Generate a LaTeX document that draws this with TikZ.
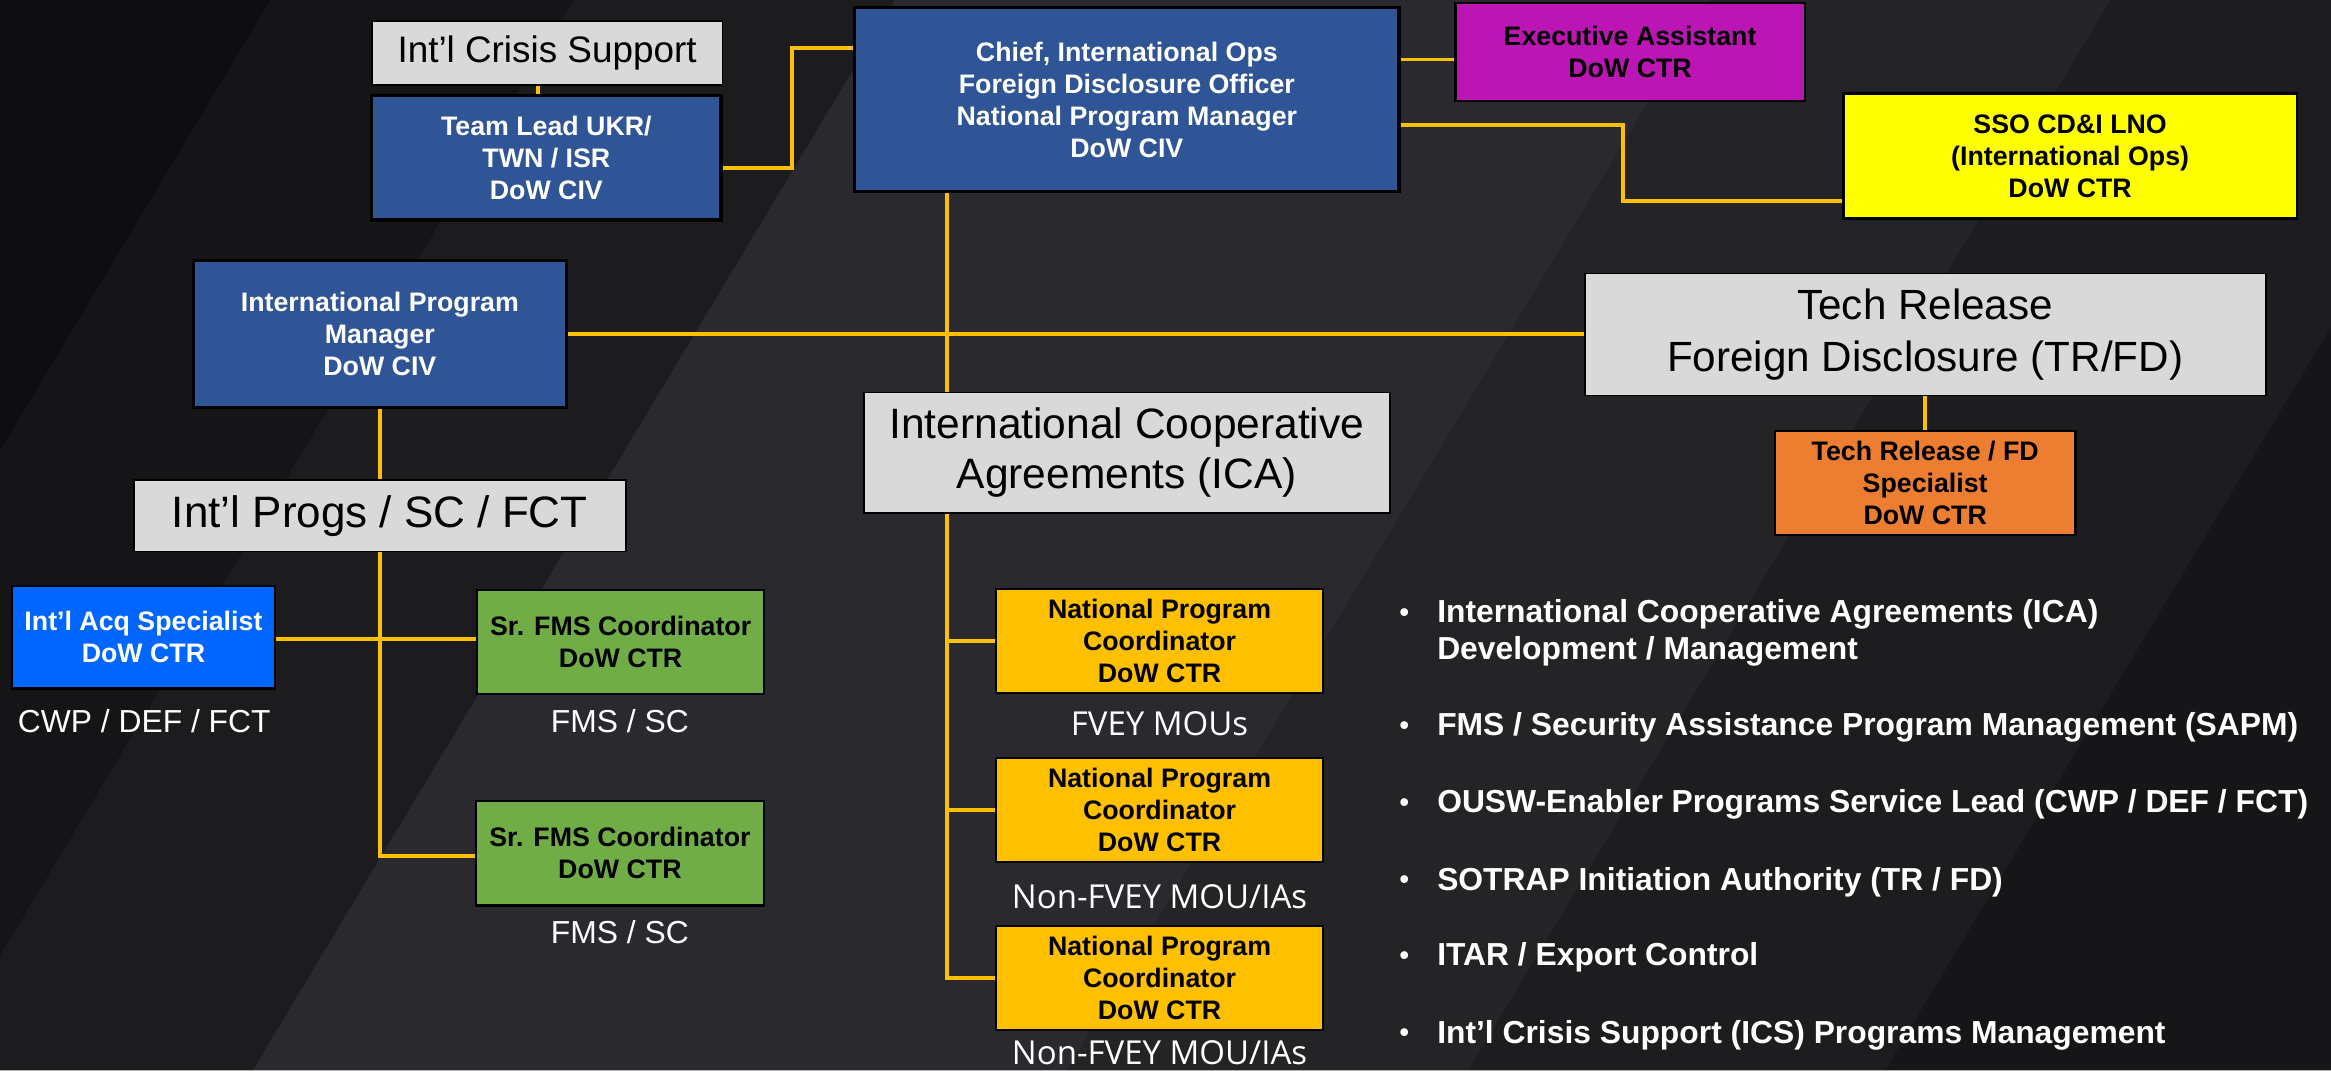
\documentclass[tikz,border=0pt]{standalone}
\usepackage{fontspec}
\setmainfont{Liberation Sans}
\newfontfamily\labelfont{Open Sans}
\definecolor{cblue}{HTML}{2F5597}
\definecolor{cbright}{HTML}{0066FF}
\definecolor{cmag}{HTML}{BB16B4}
\definecolor{cyel}{HTML}{FFFF00}
\definecolor{corange}{HTML}{ED7D31}
\definecolor{cgray}{HTML}{D9D9D9}
\definecolor{cgreen}{HTML}{70AD47}
\definecolor{camber}{HTML}{FFC000}
\definecolor{cline}{HTML}{FFC000}
\definecolor{bg0}{HTML}{1B1B1E}
\definecolor{bg1}{HTML}{0E0E10}
\definecolor{bg2}{HTML}{151517}
\definecolor{bg3}{HTML}{1C1C1F}
\definecolor{bg4}{HTML}{2A2A2E}
\definecolor{bg5}{HTML}{242427}
\definecolor{bg6}{HTML}{1D1D20}
\definecolor{bg7}{HTML}{161618}
\newcommand{\bulmark}{\makebox[12.7pt][l]{\raisebox{0.4pt}{\scalebox{0.85}{•}}}}
\begin{document}
\begin{tikzpicture}[x=0.5pt,y=-0.5pt,
  box/.style={draw=black, line width=0.8pt, inner sep=0pt, align=center,
    font=\bfseries\fontsize{9}{10.8}\selectfont},
  bluebox/.style={box, fill=cblue, text=white, line width=1.1pt},
  acqbox/.style={box, fill=cbright, text=white},
  magbox/.style={box, fill=cmag, text=black},
  yelbox/.style={box, fill=cyel, text=black},
  orbox/.style={box, fill=corange, text=black},
  grbox/.style={box, fill=cgreen, text=black},
  ambox/.style={box, fill=camber, text=black},
  graybox/.style={draw=black, line width=0.6pt, fill=cgray, text=black,
    inner sep=0pt, align=center},
  conn/.style={draw=cline, line width=1.3pt},
  lbl/.style={text=white, inner sep=0pt, text depth=0pt,
    font=\fontsize{10.7}{12}\selectfont},
  olbl/.style={text=white, inner sep=0pt, text depth=0pt,
    font=\labelfont\fontsize{11.1}{12}\selectfont},
  bul/.style={text=white, inner sep=0pt, anchor=base west, align=left,
    font=\bfseries\fontsize{10.7}{12.5}\selectfont}
]
\useasboundingbox (0,0) rectangle (1568,720);
% background
\fill[bg0] (0,0) rectangle (1568,720);
\fill[bg1] (-600,0) -- (182,0) -- (-250,720) -- (-1032,720) -- cycle;
\fill[bg2] (182,0) -- (386,0) -- (-46,720) -- (-250,720) -- cycle;
\fill[bg3] (386,0) -- (602,0) -- (170,720) -- (-46,720) -- cycle;
\fill[bg4] (602,0) -- (1150,0) -- (718,720) -- (170,720) -- cycle;
\fill[bg5] (1150,0) -- (1420,0) -- (988,720) -- (718,720) -- cycle;
\fill[bg6] (1420,0) -- (1700,0) -- (1268,720) -- (988,720) -- cycle;
\fill[bg7] (1700,0) -- (2200,0) -- (1768,720) -- (1268,720) -- cycle;

% boxes
\node[graybox, minimum width=118pt, minimum height=21.5pt,
  font=\fontsize{12.4}{14}\selectfont] (crisis) at (368,35.5) {Int’l Crisis Support};
\node[bluebox, minimum width=117.5pt, minimum height=42pt] (team) at (367.5,106)
  {Team Lead UKR/\\TWN / ISR\\DoW CIV};
\node[bluebox, minimum width=183pt, minimum height=62pt] (chief) at (758,67)
  {Chief, International Ops\\Foreign Disclosure Officer\\National Program Manager\\DoW CIV};
\node[magbox, minimum width=117.5pt, minimum height=33pt] (exec) at (1096.5,35)
  {Executive Assistant\\DoW CTR};
\node[yelbox, minimum width=152.5pt, minimum height=42pt] (sso) at (1392.5,105)
  {SSO CD\&I LNO\\(International Ops)\\DoW CTR};
\node[bluebox, minimum width=125.5pt, minimum height=49.5pt] (ipm) at (255.5,224.5)
  {International Program\\Manager\\DoW CIV};
\node[graybox, minimum width=229pt, minimum height=41pt,
  font=\fontsize{14.2}{17.5}\selectfont] (trfd) at (1295,225)
  {Tech Release\\Foreign Disclosure (TR/FD)};
\node[graybox, minimum width=177pt, minimum height=40.5pt,
  font=\fontsize{14.3}{17}\selectfont] (ica) at (758,304.5)
  {International Cooperative\\Agreements (ICA)};
\node[orbox, minimum width=101pt, minimum height=35pt] (trspec) at (1295,325)
  {Tech Release / FD\\Specialist\\DoW CTR};
\node[graybox, minimum width=165.5pt, minimum height=24pt,
  font=\fontsize{14.8}{17}\selectfont] (progs) at (255.5,347)
  {Int’l Progs / SC / FCT};
\node[acqbox, minimum width=88.5pt, minimum height=34.5pt] (acq) at (96.5,428.5)
  {Int’l Acq Specialist\\DoW CTR};
\node[grbox, minimum width=96.5pt, minimum height=35pt] (fms1) at (417.5,432)
  {Sr. FMS Coordinator\\DoW CTR};
\node[grbox, minimum width=97pt, minimum height=35pt] (fms2) at (417,574)
  {Sr. FMS Coordinator\\DoW CTR};
\node[ambox, minimum width=110pt, minimum height=35pt] (npc1) at (780,431)
  {National Program\\Coordinator\\DoW CTR};
\node[ambox, minimum width=110pt, minimum height=35pt] (npc2) at (780,545)
  {National Program\\Coordinator\\DoW CTR};
\node[ambox, minimum width=110pt, minimum height=35pt] (npc3) at (780,658)
  {National Program\\Coordinator\\DoW CTR};

% connectors
\coordinate (c1) at (362,0);
\draw[conn] (crisis.south -| c1) -- (team.north -| c1);
\coordinate (t1) at (533,113);
\coordinate (t2) at (533,32);
\draw[conn] (team.east |- t1) -- (t1) -- (t2) -- (chief.west |- t2);
\coordinate (e1) at (0,40);
\draw[conn] (chief.east |- e1) -- (exec.west |- e1);
\coordinate (s1) at (1092,84);
\coordinate (s2) at (1092,135);
\draw[conn] (chief.east |- s1) -- (s1) -- (s2) -- (sso.west |- s2);
\coordinate (v1) at (637,0);
\draw[conn] (chief.south -| v1) -- (ica.north -| v1);
\draw[conn] (ipm.east) -- (trfd.west |- ipm.east);
\draw[conn] (ipm.south) -- (progs.north);
\coordinate (p1) at (255.5,576);
\draw[conn] (progs.south) -- (p1) -- (fms2.west |- p1);
\coordinate (a1) at (0,430);
\draw[conn] (acq.east |- a1) -- (fms1.west |- a1);
\coordinate (n3) at (637,658);
\draw[conn] (ica.south -| v1) -- (n3) -- (npc3.west |- n3);
\draw[conn] (npc1.west) -- (npc1.west -| v1);
\draw[conn] (npc2.west) -- (npc2.west -| v1);
\draw[conn] (trfd.south) -- (trspec.north);

% labels
\node[lbl] (lcwp) at (97,485) {CWP / DEF / FCT};
\node[lbl] (lfms1) at (417,485) {FMS / SC};
\node[lbl] (lfms2) at (417,627) {FMS / SC};
\node[olbl] (lfvey) at (780,487) {FVEY MOUs};
\node[olbl] (lnon1) at (780,603) {Non-FVEY MOU/IAs};
\node[olbl] (lnon2) at (780,708) {Non-FVEY MOU/IAs};

% bullets
\node[bul] (b1) at (941,443.7) {\bulmark International Cooperative Agreements (ICA)\\\hspace*{12.7pt}Development / Management};
\node[bul] (b2) at (941,494.7) {\bulmark FMS / Security Assistance Program Management (SAPM)};
\node[bul] (b3) at (941,546.7) {\bulmark OUSW-Enabler Programs Service Lead (CWP / DEF / FCT)};
\node[bul] (b4) at (941,598.7) {\bulmark SOTRAP Initiation Authority (TR / FD)};
\node[bul] (b5) at (941,649.7) {\bulmark ITAR / Export Control};
\node[bul] (b6) at (941,701.7) {\bulmark Int’l Crisis Support (ICS) Programs Management};
\end{tikzpicture}
\end{document}
